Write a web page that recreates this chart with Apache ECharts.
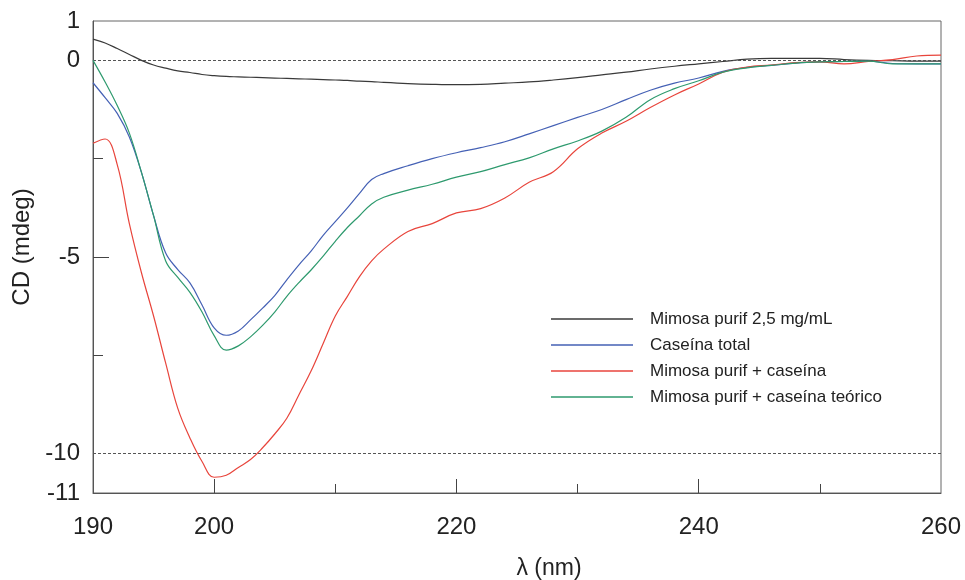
<!DOCTYPE html>
<html>
<head>
<meta charset="utf-8">
<script src="https://cdn.jsdelivr.net/npm/echarts@6/dist/echarts.min.js"></script>
<style>html,body{margin:0;padding:0;background:#fff;}#c{width:965px;height:580px;}</style>
</head>
<body>
<div id="c"></div>
<script>
var wavelengths = [190,191,192,193,194,195,196,197,198,199,200,201,202,203,204,205,206,207,208,209,210,211,212,213,214,216,218,220,222,224,226,228,230,232,234,236,238,240,242,244,246,248,250,252,254,256,258,260];
var mimosa = [0.54,0.44,0.3,0.15,0.0,-0.12,-0.2,-0.27,-0.31,-0.36,-0.39,-0.41,-0.42,-0.43,-0.44,-0.45,-0.46,-0.47,-0.48,-0.49,-0.5,-0.51,-0.53,-0.54,-0.56,-0.59,-0.61,-0.62,-0.61,-0.58,-0.55,-0.5,-0.44,-0.37,-0.3,-0.22,-0.15,-0.09,-0.03,0.03,0.05,0.05,0.05,0.02,0.0,-0.01,-0.02,-0.02];
var caseina = [-0.57,-0.95,-1.35,-1.95,-2.85,-3.95,-4.9,-5.32,-5.66,-6.22,-6.8,-6.99,-6.88,-6.6,-6.3,-5.98,-5.58,-5.2,-4.85,-4.45,-4.1,-3.75,-3.38,-3.03,-2.88,-2.68,-2.5,-2.35,-2.22,-2.07,-1.87,-1.66,-1.45,-1.25,-1.0,-0.76,-0.58,-0.45,-0.28,-0.18,-0.13,-0.07,-0.04,-0.03,-0.02,-0.08,-0.09,-0.09];
var mezcla = [-2.11,-2.0,-2.65,-4.15,-5.4,-6.5,-7.7,-8.85,-9.6,-10.2,-10.6,-10.55,-10.35,-10.15,-9.85,-9.5,-9.1,-8.5,-7.9,-7.2,-6.5,-6.0,-5.5,-5.1,-4.8,-4.35,-4.15,-3.88,-3.77,-3.5,-3.1,-2.83,-2.25,-1.85,-1.55,-1.2,-0.88,-0.6,-0.3,-0.17,-0.12,-0.06,-0.04,-0.09,-0.03,0.02,0.11,0.13];
var teorico = [0.0,-0.55,-1.15,-1.85,-2.85,-3.95,-5.1,-5.52,-5.9,-6.4,-7.0,-7.37,-7.26,-7.03,-6.74,-6.4,-6.0,-5.65,-5.33,-4.98,-4.6,-4.25,-3.95,-3.65,-3.48,-3.3,-3.15,-2.97,-2.83,-2.65,-2.48,-2.25,-2.05,-1.8,-1.45,-1.0,-0.72,-0.52,-0.3,-0.19,-0.13,-0.07,-0.04,-0.03,-0.02,-0.09,-0.09,-0.09];
var seriesNames = ['Mimosa purif 2,5 mg/mL','Caseína total','Mimosa purif + caseína','Mimosa purif + caseína teórico'];
var xLabelValues = [190,200,220,240,260];
var xMajorTicks = [200,220,240];
var xMinorTicks = [210,230,250];
var yLabelValues = [1,0,-5,-10,-11];
var yMajorTicks = [-5];
var yMinorTicks = [-2.5,-7.5];
var refLines = [0,-10];

function pairs(ys){ return wavelengths.map(function(x,i){ return [x, ys[i]]; }); }
var colors = ['#3a3a3a','#4561b5','#e8453c','#2e9a6e'];
var font = 'Liberation Sans, Arial, sans-serif';

var chart = echarts.init(document.getElementById('c'), null, {renderer:'canvas'});
var datasets = [mimosa, caseina, mezcla, teorico];
var series = datasets.map(function(d,i){
  return {
    name: seriesNames[i], type:'line', data: pairs(d), symbol:'none', smooth:0.4,
    lineStyle:{color:colors[i], width:1.2}, itemStyle:{color:colors[i]}, z: 3 + i
  };
});
series[0].markLine = {
  silent:true, symbol:'none', label:{show:false},
  lineStyle:{color:'#555', type:[3,2], width:1},
  data: refLines.map(function(v){ return {yAxis:v}; })
};

chart.setOption({
  animation:false,
  backgroundColor:'#fff',
  grid:{left:93, right:24, top:21, bottom:87, show:true, borderColor:'#666', borderWidth:1, containLabel:false, outerBoundsMode:'none'},
  legend:{
    orient:'vertical', left:546, top:304, itemWidth:82, itemHeight:1.5, itemGap:6, icon:'rect',
    data: seriesNames,
    textStyle:{fontFamily:font, fontSize:17, color:'#222', lineHeight:20, padding:[0,0,0,12]}
  },
  xAxis:[{
    type:'value', min:190, max:260, interval:10, position:'bottom',
    name:'λ (nm)', nameLocation:'middle', nameGap:64,
    nameTextStyle:{fontFamily:font, fontSize:23, color:'#222', padding:[0,0,0,64]},
    axisLine:{onZero:false, lineStyle:{color:'#555', width:1}},
    axisTick:{inside:true, length:14, customValues:xMajorTicks, lineStyle:{color:'#444'}},
    axisLabel:{customValues:xLabelValues, fontFamily:font, fontSize:24, color:'#222', margin:22},
    splitLine:{show:false}
  },{
    type:'value', min:190, max:260, interval:10, position:'bottom',
    axisLine:{show:false, onZero:false},
    axisTick:{inside:true, length:9, customValues:xMinorTicks, lineStyle:{color:'#444'}},
    axisLabel:{show:false}, splitLine:{show:false}
  }],
  yAxis:[{
    type:'value', min:-11, max:1, interval:1, position:'left',
    name:'CD (mdeg)', nameLocation:'middle', nameGap:43,
    nameTextStyle:{fontFamily:font, fontSize:24, color:'#222', padding:[0,0,0,20]},
    axisLine:{show:true, onZero:false, lineStyle:{color:'#555', width:1}},
    axisTick:{show:true, inside:true, length:16, customValues:yMajorTicks, lineStyle:{color:'#444'}},
    axisLabel:{customValues:yLabelValues, fontFamily:font, fontSize:24, color:'#222', margin:13},
    splitLine:{show:false}
  },{
    type:'value', min:-11, max:1, interval:1, position:'left',
    axisLine:{show:false, onZero:false},
    axisTick:{show:true, inside:true, length:10, customValues:yMinorTicks, lineStyle:{color:'#444'}},
    axisLabel:{show:false}, splitLine:{show:false}
  }],
  series: series
});
</script>
</body>
</html>
